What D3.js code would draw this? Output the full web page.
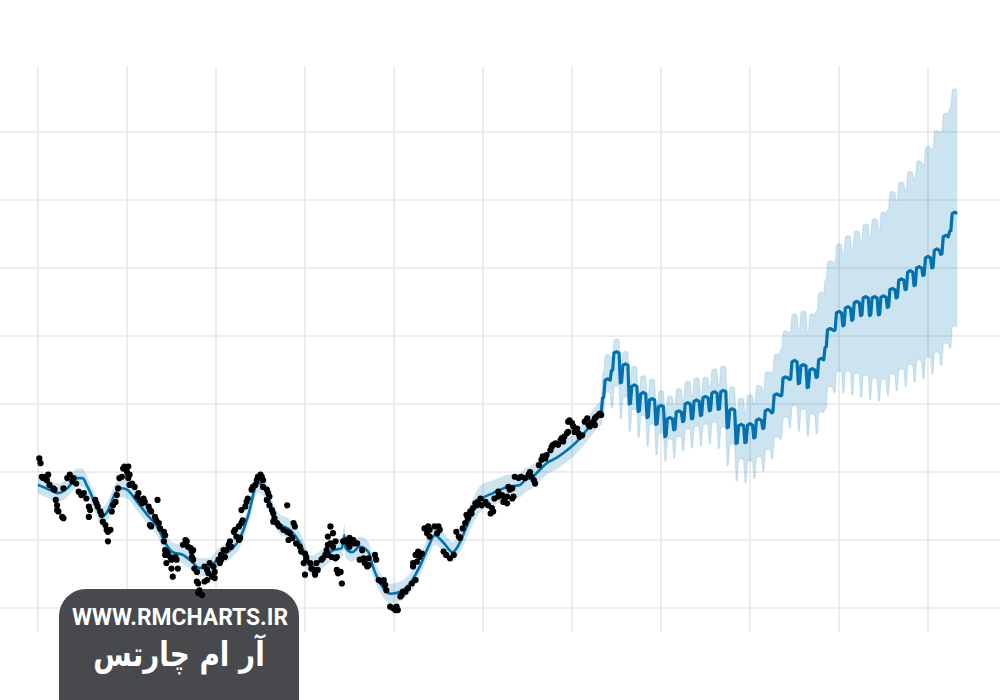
<!DOCTYPE html>
<html><head><meta charset="utf-8">
<script src="https://cdn.jsdelivr.net/npm/d3@7"></script>
<style>html,body{margin:0;padding:0;background:#fff}svg{display:block}</style>
</head><body>
<svg id="c" width="1000" height="700"></svg>
<script>
// ---- data (x: day index, y: value) ----
const xTicks = [0,70,140,210,280,350,420,490,560,630,700];
const yTicks = [20,30,40,50,60,70,80,90];
const xExtent = [0,700];
const yExtent = [16.5,99.6];

const histDays  = [0,9,16,23,31,35,39,46,50,54,61,66,70,78,86,94,100,106,114,121,127,135,142,151,159,165,173,180,185,189,198,206,215,223,232,239,241,242,247,253,260,263,269,277,285,293,300,307,312,319,326,330,337,342,348,358,369,379,383,389,393,400,408,414,425,433,440,443];
const histYhat  = [38.1,37.4,36.9,37.6,39.1,39.1,37.8,34.9,33.4,34.0,36.9,37.6,37.4,35.6,33.7,31.9,29.6,28.2,27.8,26.8,25.9,26.0,27.4,28.5,30.3,33.4,38.4,36.9,34.0,32.5,31.5,29.6,26.2,27.1,28.5,28.8,30.7,28.8,28.2,29.0,28.2,26.3,23.7,22.1,22.4,23.7,26.0,29.0,30.7,29.6,28.2,29.0,31.9,34.1,35.9,36.9,37.8,38.1,38.8,39.3,40.0,41.3,42.1,42.9,44.7,46.5,48.1,48.6];
const histUpper = [39.5,38.8,38.3,39.0,40.5,40.5,39.2,36.3,34.8,35.4,38.3,39.0,38.8,37.0,35.1,33.3,31.0,29.6,29.2,28.2,27.3,27.4,28.8,29.9,31.7,34.8,39.9,38.4,35.5,34.0,33.0,31.1,27.7,28.6,30.0,30.3,32.4,30.3,29.7,30.5,29.7,27.8,25.2,23.6,23.9,25.2,27.5,30.5,32.2,31.1,29.7,30.5,33.6,36.0,38.0,38.8,39.6,39.8,40.5,41.0,41.7,43.0,43.8,44.6,46.4,48.3,50.0,50.5];
const histLower = [36.8,36.1,35.6,36.3,37.8,37.8,36.5,33.6,32.1,32.7,35.6,36.3,36.1,34.3,32.4,30.6,28.3,26.9,26.5,25.5,24.6,24.7,26.1,27.2,29.0,32.1,37.0,35.5,32.6,31.1,30.1,28.2,24.8,25.7,27.1,27.4,28.8,27.4,26.8,27.6,26.8,24.9,22.3,20.7,21.0,22.3,24.6,27.6,29.3,28.2,26.8,27.6,30.2,32.3,34.1,35.1,36.0,36.3,37.0,37.6,38.3,39.6,40.4,41.2,43.0,44.8,46.4,46.9];

// forecast: weekly level of the trend (weekdays), starting at day 444
const fcstStartDay = 444;
const fcstLevel = [53.5,57.5,55.7,52.6,51.5,50.6,49.6,47.8,48.8,50.0,50.4,50.9,51.6,51.8,49.1,46.8,46.9,47.6,49.0,51.3,53.8,56.2,55.6,55.0,56.5,60.9,63.4,64.1,64.9,65.6,65.6,65.7,66.8,68.2,69.4,70.0,71.5,72.6,74.6,78.0];
const fcstUpper = [57.1,59.4,57.6,55.4,54.0,53.5,51.8,51.0,52.1,53.2,53.7,53.8,55.0,55.4,52.4,50.7,51.2,52.6,54.6,57.2,60.6,63.1,63.5,63.1,66.3,70.9,73.4,74.6,75.3,76.3,77.1,78.1,81.1,82.5,84.0,85.6,87.7,90.0,92.6,96.2];
const fcstLower = [51.6,52.5,50.9,49.1,48.2,46.9,45.6,44.7,45.1,46.2,46.6,46.9,47.2,46.5,44.0,41.8,41.5,42.1,43.2,45.0,47.9,49.6,49.1,48.4,48.7,52.4,54.7,54.7,54.4,54.1,53.7,53.5,54.3,55.0,55.7,56.3,56.8,57.5,58.8,61.3];
// weekly seasonality (offset by day of week counted from forecast start)
const weeklyEffect      = [-2.6,-2.5,0.0,0.1,0.2,0.1,0.0];
const weeklyEffectLower = [-3.1,-3.0,0.0,0.1,0.2,0.1,0.0];

const observedPoints = [[1,42.0],[2,41.3],[3,39.3],[4,39.1],[6,39.3],[7,38.8],[8,39.6],[9,38.1],[12,37.6],[13,37.4],[14,35.9],[15,35.1],[15,34.4],[16,34.2],[19,33.4],[20,33.2],[20,37.6],[23,39.1],[25,39.6],[27,38.6],[28,39.1],[30,38.3],[32,37.1],[34,36.6],[36,36.9],[38,36.1],[40,34.9],[40,33.4],[41,34.4],[45,35.9],[46,35.4],[47,34.9],[49,34.2],[50,33.7],[51,32.7],[53,32.2],[54,31.5],[55,31.2],[55,29.8],[57,31.5],[58,34.2],[59,35.1],[61,35.6],[62,36.6],[63,37.6],[64,39.1],[66,39.3],[67,40.5],[68,40.8],[70,40.0],[71,39.6],[71,40.8],[71,39.1],[72,39.6],[72,38.1],[74,38.3],[76,37.8],[78,36.4],[79,36.9],[80,35.9],[82,35.4],[83,36.1],[84,35.6],[87,34.9],[88,34.4],[88,32.2],[89,34.2],[89,32.0],[92,33.4],[93,32.9],[94,35.9],[95,32.5],[96,31.7],[99,31.2],[99,29.8],[100,30.7],[100,28.5],[100,27.8],[101,28.3],[101,26.6],[102,28.0],[104,27.5],[105,27.1],[105,25.8],[106,24.6],[108,27.5],[109,27.1],[110,25.8],[114,29.3],[116,30.0],[117,29.8],[118,29.0],[120,28.8],[121,28.3],[121,27.5],[122,28.5],[122,27.1],[123,25.8],[125,25.3],[125,23.9],[126,23.6],[126,22.2],[127,22.6],[129,21.9],[131,26.1],[131,23.9],[133,25.6],[133,24.1],[134,25.1],[135,26.6],[137,24.6],[138,26.1],[139,25.3],[139,24.4],[142,27.1],[143,26.6],[144,27.8],[144,27.1],[146,28.5],[147,27.5],[148,28.5],[150,29.3],[151,29.8],[152,29.0],[154,31.2],[155,31.5],[156,30.5],[158,30.0],[158,32.0],[159,30.3],[160,32.5],[160,34.4],[161,32.9],[163,34.9],[164,35.6],[165,36.1],[168,37.4],[169,37.8],[171,38.1],[172,38.8],[173,39.3],[175,39.6],[176,39.3],[177,38.8],[177,37.8],[180,37.4],[180,35.9],[181,36.9],[182,36.4],[182,35.1],[184,34.4],[185,33.9],[185,32.7],[186,33.2],[188,32.5],[189,32.2],[190,32.0],[193,31.5],[196,35.1],[196,31.2],[197,30.0],[198,31.0],[200,30.3],[201,32.5],[202,32.0],[203,29.5],[206,29.0],[207,28.3],[209,26.6],[210,28.0],[210,24.9],[211,27.5],[211,27.1],[214,26.6],[215,25.8],[217,25.6],[218,24.9],[218,25.3],[219,25.6],[219,26.6],[220,25.6],[223,27.1],[224,27.3],[226,27.8],[227,28.5],[228,29.3],[228,30.5],[228,27.8],[230,29.5],[230,32.0],[231,27.5],[232,31.0],[232,29.0],[234,29.8],[234,27.3],[235,27.5],[235,25.6],[236,25.1],[238,25.3],[239,23.6],[240,29.8],[243,30.0],[244,29.5],[245,30.3],[245,29.0],[247,29.8],[248,30.0],[249,29.5],[251,29.5],[253,27.1],[255,28.5],[256,27.3],[257,26.6],[259,26.1],[260,26.3],[260,27.3],[265,27.8],[266,27.1],[268,24.1],[270,23.9],[272,24.1],[273,23.4],[274,22.6],[277,20.2],[279,20.0],[281,19.7],[282,20.2],[283,19.7],[285,21.7],[286,21.9],[287,22.4],[289,22.4],[291,22.9],[294,23.6],[295,26.6],[295,26.1],[297,24.1],[297,27.8],[298,26.8],[299,28.3],[300,27.5],[302,28.0],[304,31.7],[306,31.0],[307,32.0],[308,31.5],[308,30.5],[312,32.0],[314,31.0],[315,32.0],[316,31.5],[319,28.3],[321,27.8],[324,27.3],[327,27.8],[329,31.2],[331,30.5],[332,30.3],[334,31.7],[336,32.5],[337,33.7],[338,33.2],[340,34.2],[341,33.9],[342,34.7],[344,35.4],[345,35.1],[346,35.6],[348,36.1],[349,35.1],[352,35.6],[354,35.1],[356,33.9],[357,34.7],[358,34.2],[359,36.1],[362,36.4],[362,37.1],[365,36.6],[366,35.6],[367,36.1],[369,35.4],[369,36.4],[370,37.8],[371,37.4],[373,36.1],[373,37.6],[374,36.4],[375,39.3],[378,39.1],[380,39.3],[383,39.1],[386,39.6],[387,40.0],[388,39.3],[390,38.8],[391,38.3],[394,41.0],[396,41.8],[397,42.3],[399,42.0],[400,42.5],[403,43.2],[404,43.7],[405,44.0],[407,44.2],[409,44.0],[411,44.7],[412,45.0],[413,44.5],[414,45.2],[416,45.7],[417,45.9],[417,47.4],[418,47.6],[420,47.2],[421,46.7],[422,45.9],[424,46.4],[425,45.7],[426,45.2],[428,45.4],[430,47.4],[432,47.9],[433,46.9],[434,46.7],[435,47.2],[437,47.4],[438,47.9],[438,46.9],[439,48.1],[441,48.4],[442,48.6],[443,48.4]];

const watermarkUrl = "WWW.RMCHARTS.IR";
const watermarkName = "آر ام چارتس";

// ---- scales ----
const x = d3.scaleLinear().domain([0,700]).range([38,928]);
const y = d3.scaleLinear().domain([20,90]).range([608,132]);
const svg = d3.select("#c");

// grid
const grid = svg.append("g").attr("stroke","#e5e7ea").attr("stroke-width",1.6);
grid.selectAll("line.h").data(yTicks).join("line").attr("class","h")
  .attr("x1",0).attr("x2",1000).attr("y1",d=>y(d)).attr("y2",d=>y(d));
grid.selectAll("line.v").data(xTicks).join("line").attr("class","v")
  .attr("x1",d=>x(d)).attr("x2",d=>x(d)).attr("y1",y(yExtent[1])).attr("y2",y(yExtent[0]));

// watermark box (under the data)
const wm = svg.append("g");
wm.append("rect").attr("x",59).attr("y",589).attr("width",240).attr("height",150).attr("rx",27).attr("fill","#48494d");
wm.append("text").attr("x",180).attr("y",625).attr("text-anchor","middle")
  .attr("font-family","Roboto, 'Open Sans', sans-serif").attr("font-weight",700).attr("font-size",24)
  .attr("fill","#ffffff").attr("textLength",216).attr("lengthAdjust","spacingAndGlyphs").text(watermarkUrl);
wm.append("g").attr("transform","translate(179,666) scale(0.82,1)")
  .append("text").attr("x",0).attr("y",0).attr("text-anchor","middle").attr("direction","rtl")
  .attr("font-family","'DejaVu Sans', sans-serif").attr("font-weight",700).attr("font-size",34)
  .attr("fill","#ffffff").text(watermarkName);

// build series
const hist = histDays.map((d,i)=>({d, yhat:histYhat[i], up:histUpper[i], lo:histLower[i]}));
const fut = [hist[hist.length-1]];
fcstLevel.forEach((lvl,k)=>{
  weeklyEffect.forEach((w,dow)=>{
    fut.push({d: fcstStartDay + 7*k + dow, yhat: lvl + w, up: fcstUpper[k] + w, lo: fcstLower[k] + weeklyEffectLower[dow]});
  });
});

const bandColor = "rgba(0,114,178,0.2)";
const areaH = d3.area().x(p=>x(p.d)).y0(p=>y(p.lo)).y1(p=>y(p.up)).curve(d3.curveMonotoneX);
const areaF = d3.area().x(p=>x(p.d)).y0(p=>y(p.lo)).y1(p=>y(p.up)).curve(d3.curveLinear);
svg.append("path").datum(hist).attr("d",areaH).attr("fill",bandColor);
svg.append("path").datum(fut).attr("d",areaF).attr("fill",bandColor);
// faint band edges in the forecast
const edgeU = d3.line().x(p=>x(p.d)).y(p=>y(p.up));
const edgeL = d3.line().x(p=>x(p.d)).y(p=>y(p.lo));
svg.append("path").datum(fut).attr("d",edgeU).attr("fill","none").attr("stroke","rgba(0,114,178,0.12)").attr("stroke-width",1.2);
svg.append("path").datum(fut).attr("d",edgeL).attr("fill","none").attr("stroke","rgba(0,114,178,0.12)").attr("stroke-width",1.2);

const lineH = d3.line().x(p=>x(p.d)).y(p=>y(p.yhat)).curve(d3.curveMonotoneX);
const lineF = d3.line().x(p=>x(p.d)).y(p=>y(p.yhat)).curve(d3.curveLinear);
svg.append("path").datum(hist).attr("d",lineH).attr("fill","none").attr("stroke","#0072B2").attr("stroke-width",2.6).attr("stroke-linejoin","round");
svg.append("path").datum(fut).attr("d",lineF).attr("fill","none").attr("stroke","#0072B2").attr("stroke-width",3.2).attr("stroke-linejoin","round");

// observed points
svg.append("g").selectAll("circle").data(observedPoints).join("circle")
  .attr("cx",p=>x(p[0])).attr("cy",p=>y(p[1])).attr("r",3.1).attr("fill","#000");
</script>
</body></html>
